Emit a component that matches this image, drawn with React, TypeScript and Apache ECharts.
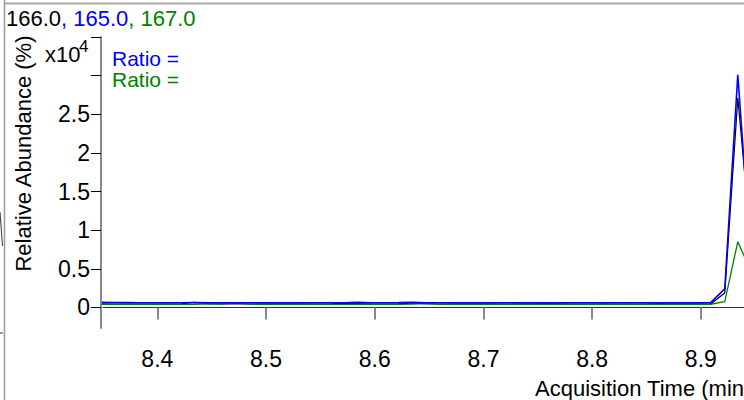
import React, { useEffect, useRef } from "react";
import * as echarts from "echarts";

const times = [
  8.347, 8.359, 8.372, 8.384, 8.397, 8.409, 8.422, 8.434, 8.447, 8.459,
  8.472, 8.484, 8.497, 8.509, 8.522, 8.534, 8.547, 8.559, 8.572, 8.584,
  8.597, 8.609, 8.622, 8.634, 8.647, 8.659, 8.672, 8.684, 8.697, 8.709,
  8.722, 8.734, 8.747, 8.759, 8.772, 8.784, 8.797, 8.809, 8.822, 8.834,
  8.847, 8.859, 8.872, 8.884, 8.897, 8.909, 8.922, 8.934, 8.947,
];

// m/z 166.0 (black)
const ion166 = [
  0.046, 0.045, 0.045, 0.044, 0.045, 0.045, 0.046, 0.068, 0.05, 0.046,
  0.047, 0.045, 0.044, 0.045, 0.045, 0.044, 0.045, 0.046, 0.055, 0.05,
  0.045, 0.044, 0.046, 0.058, 0.05, 0.045, 0.044, 0.045, 0.044, 0.046,
  0.045, 0.044, 0.045, 0.046, 0.045, 0.044, 0.045, 0.046, 0.045, 0.044,
  0.045, 0.046, 0.045, 0.044, 0.045, 0.046, 0.188, 2.71, 0.72,
];

// m/z 165.0 (blue)
const ion165 = [
  0.066, 0.064, 0.063, 0.062, 0.062, 0.061, 0.062, 0.064, 0.062, 0.061,
  0.06, 0.061, 0.06, 0.06, 0.061, 0.06, 0.061, 0.062, 0.06, 0.066,
  0.062, 0.061, 0.063, 0.066, 0.062, 0.061, 0.06, 0.061, 0.06, 0.061,
  0.062, 0.06, 0.061, 0.06, 0.06, 0.061, 0.062, 0.062, 0.061, 0.062,
  0.061, 0.06, 0.061, 0.06, 0.06, 0.062, 0.24, 3.012, 0.45,
];

// m/z 167.0 (green)
const ion167 = [
  0.042, 0.041, 0.042, 0.041, 0.041, 0.042, 0.041, 0.042, 0.048, 0.043,
  0.058, 0.044, 0.042, 0.041, 0.042, 0.041, 0.042, 0.041, 0.042, 0.043,
  0.042, 0.041, 0.042, 0.043, 0.05, 0.042, 0.041, 0.04, 0.041, 0.042,
  0.041, 0.042, 0.041, 0.042, 0.041, 0.042, 0.041, 0.042, 0.041, 0.042,
  0.041, 0.042, 0.041, 0.042, 0.041, 0.042, 0.075, 0.852, 0.44,
];

const xTicks = [8.4, 8.5, 8.6, 8.7, 8.8, 8.9];
const yTicks = [0, 0.5, 1, 1.5, 2, 2.5, 3, 3.5];
const yLabels = [0, 0.5, 1, 1.5, 2, 2.5];

const FONT = '"Liberation Sans", Arial, sans-serif';

export default function App() {
  const ref = useRef<HTMLDivElement>(null);

  useEffect(() => {
    if (!ref.current) return;
    const chart = echarts.init(ref.current, null, { renderer: "svg" });
    const mk = (vals: number[]) => times.map((t, i) => [t, vals[i]]);
    chart.setOption({
      animation: false,
      backgroundColor: "#ffffff",
      textStyle: { fontFamily: FONT },
      grid: { left: 103, right: 0, top: 37, bottom: 72, containLabel: false },
      xAxis: {
        type: "value",
        min: 8.35,
        max: 8.9397,
        offset: 3,
        axisLine: { show: true, lineStyle: { color: "#333", width: 1 } },
        axisTick: {
          show: true,
          length: 12,
          customValues: xTicks,
          lineStyle: { color: "#888", width: 2 },
        },
        axisLabel: {
          customValues: xTicks,
          fontSize: 23,
          lineHeight: 23,
          fontFamily: FONT,
          color: "#000",
          margin: 16,
          formatter: (v: number) => v.toFixed(1),
        },
        splitLine: { show: false },
      },
      yAxis: {
        type: "value",
        min: -0.2655,
        max: 3.5,
        offset: 2,
        axisLine: { show: true, lineStyle: { color: "#888", width: 2 } },
        axisTick: {
          show: true,
          length: 10,
          customValues: yTicks,
          lineStyle: { color: "#000", width: 1 },
        },
        axisLabel: {
          customValues: yLabels,
          fontSize: 23,
          lineHeight: 23,
          fontFamily: FONT,
          color: "#000",
          margin: 11,
          padding: [7, 0, 0, 0],
        },
        splitLine: { show: false },
      },
      series: [
        {
          name: "166.0",
          type: "line",
          data: mk(ion166),
          showSymbol: false,
          clip: true,
          lineStyle: { color: "#000", width: 1.2 },
        },
        {
          name: "167.0",
          type: "line",
          data: mk(ion167),
          showSymbol: false,
          clip: true,
          lineStyle: { color: "#008000", width: 1.3 },
        },
        {
          name: "165.0",
          type: "line",
          data: mk(ion165),
          showSymbol: false,
          clip: true,
          lineStyle: { color: "#0000ff", width: 1.6 },
        },
      ],
      graphic: [
        { type: "line", shape: { x1: 4.5, y1: 0, x2: 4.5, y2: 400 }, style: { stroke: "#999", lineWidth: 1.5 } },
        { type: "line", shape: { x1: 4.5, y1: 3.5, x2: 744, y2: 3.5 }, style: { stroke: "#aaa", lineWidth: 2 } },
        { type: "line", shape: { x1: 0, y1: 212, x2: 2.5, y2: 246 }, style: { stroke: "#333", lineWidth: 1 } },
        { type: "line", shape: { x1: 0, y1: 333, x2: 3, y2: 333 }, style: { stroke: "#333", lineWidth: 1 } },
        {
          type: "text",
          x: 6,
          y: 18,
          style: {
            text: "{k|166.0}{b|, 165.0}{g|, 167.0}",
            verticalAlign: "middle",
            fontSize: 22,
            fontFamily: FONT,
            rich: {
              k: { fill: "#000", fontSize: 22, fontFamily: FONT },
              b: { fill: "#0000ff", fontSize: 22, fontFamily: FONT },
              g: { fill: "#008000", fontSize: 22, fontFamily: FONT },
            },
          },
        },
        {
          type: "text",
          x: 23,
          y: 153.5,
          rotation: Math.PI / 2,
          style: {
            text: "Relative Abundance (%)",
            align: "center",
            verticalAlign: "middle",
            fontSize: 22,
            fontFamily: FONT,
            fill: "#000",
          },
        },
        {
          type: "text",
          x: 535,
          y: 388,
          style: {
            text: "Acquisition Time (min",
            align: "left",
            verticalAlign: "middle",
            fontSize: 22,
            fontFamily: FONT,
            fill: "#000",
          },
        },
        {
          type: "text",
          x: 45,
          y: 54,
          style: { text: "x10", verticalAlign: "middle", fontSize: 22, fontFamily: FONT, fill: "#000" },
        },
        {
          type: "text",
          x: 79,
          y: 46,
          style: { text: "4", verticalAlign: "middle", fontSize: 17, lineHeight: 14, fontFamily: FONT, fill: "#000" },
        },
        {
          type: "text",
          x: 112,
          y: 58.5,
          style: { text: "Ratio =", verticalAlign: "middle", fontSize: 21, lineHeight: 19, fontFamily: FONT, fill: "#0000ff" },
        },
        {
          type: "text",
          x: 112,
          y: 79.5,
          style: { text: "Ratio =", verticalAlign: "middle", fontSize: 21, lineHeight: 19, fontFamily: FONT, fill: "#008000" },
        },
      ],
    });
    return () => chart.dispose();
  }, []);

  return (
    <div
      ref={ref}
      style={{ position: "fixed", left: 0, top: 0, width: 744, height: 400, background: "#fff" }}
    />
  );
}
